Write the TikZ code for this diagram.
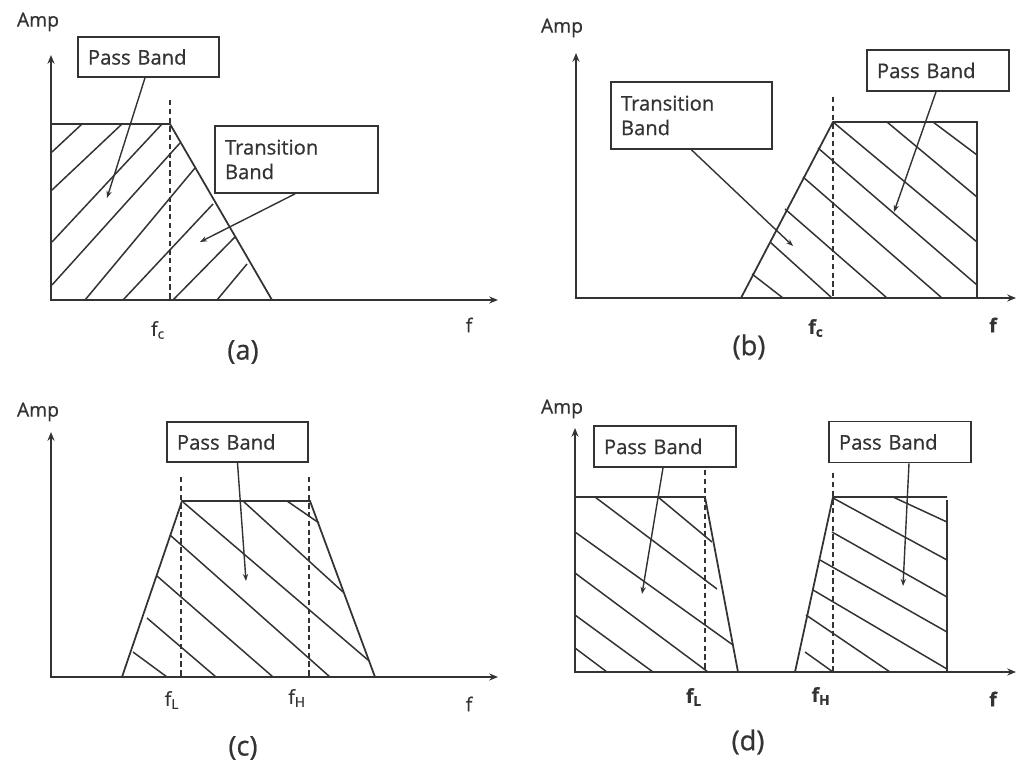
\documentclass[tikz,border=0pt]{standalone}
\usepackage{fontspec}
\setmainfont{Open Sans}[FakeBold=0.7]
\usetikzlibrary{arrows.meta, positioning}
\definecolor{ink}{HTML}{333333}

\begin{document}
\begin{tikzpicture}[x=0.02cm, y=-0.02cm]
	% 定义样式
	\tikzset{
		axis line/.style={
			line width=1.2pt, draw=ink,
			{Stealth[length=5pt,width=4pt]}-{Stealth[length=5pt,width=4pt]}
		},
		band edge/.style={line width=1pt, draw=ink},
		hatch line/.style={line width=0.85pt, draw=ink},
		cut line/.style={line width=1pt, draw=ink, dash pattern=on 3pt off 2pt},
		band box/.style={
			draw=ink, line width=1pt, fill=white, text=ink,
			inner xsep=0.2cm, inner ysep=0pt, align=left,
			font=\fontsize{11.5}{14}\selectfont
		},
		pointer/.style={line width=0.8pt, draw=ink, -{Stealth[length=4pt,width=3pt]}},
		axis label/.style={text=ink, font=\fontsize{11}{13}\selectfont},
		tick label/.style={text=ink, font=\fontsize{11}{13}\selectfont},
		panel label/.style={text=ink, font=\fontsize{15.5}{18}\selectfont}
	}
	
	\useasboundingbox (0,0) rectangle (1018,770);
	
	% (a) 低通
	\coordinate (ya) at (51,55);
	\coordinate (oa) at (51,300);
	\coordinate (xa) at (498,300);
	\foreach \xa/\ya/\xb/\yb in {52/152/82/124, 52/190/122/124, 52/242/162/124, 52/285/180/143,
		85/300/195/168, 123/300/213/204, 173/300/235/237, 217/300/247/264} {
		\draw[hatch line] (\xa,\ya) -- (\xb,\yb);
	}
	\draw[band edge] (51,124) -- (170,124) -- (272,300);
	\draw[cut line] (170,100) -- (170,300);
	\draw[axis line] (ya) -- (oa) -- (xa);
	\node[axis label] (ampa) at (38,22) {Amp};
	\node[tick label] (fca) at (158,330) {f\textsubscript{c}};
	\node[tick label] (fa) at (469,325) {f};
	\node[panel label] (capa) at (243,352) {(a)};
	\node[band box, text width=2.42cm, minimum height=0.8cm] (passa) at (148.5,57) {Pass Band};
	\node[band box, text width=2.86cm, minimum height=1.34cm] (transa) at (296.5,159.5) {Transition\\Band};
	\coordinate (passatip) at (107,198);
	\coordinate (transatip) at (200,242);
	\draw[pointer] ([xshift=-0.07cm]passa.south) -- (passatip);
	\draw[pointer] ([xshift=-0.03cm]transa.south) -- (transatip);
	
	% (b) 高通
	\coordinate (yb) at (576,53);
	\coordinate (ob) at (576,298);
	\coordinate (xb) at (1016,298);
	\foreach \xa/\ya/\xb/\yb in {752/274/783/298, 770/242/832/298, 785/209/887/298, 803/177/942/298,
		818/148/977/285, 833/122/977/242, 887/122/977/197, 933/122/977/155} {
		\draw[hatch line] (\xa,\ya) -- (\xb,\yb);
	}
	\draw[band edge] (741,298) -- (833,122) -- (977,122) -- (977,298);
	\draw[cut line] (833,97) -- (833,298);
	\draw[axis line] (yb) -- (ob) -- (xb);
	\node[axis label] (ampb) at (562,28) {Amp};
	\node[tick label, font=\fontsize{11}{13}\selectfont\bfseries] (fcb) at (816,328) {f\textsubscript{c}};
	\node[tick label, font=\fontsize{11}{13}\selectfont\bfseries] (fb) at (993,325) {f};
	\node[panel label] (capb) at (749,347) {(b)};
	\node[band box, text width=2.82cm, minimum height=1.34cm] (transb) at (691.5,115.5) {Transition\\Band};
	\node[band box, text width=2.44cm, minimum height=0.82cm] (passb) at (938,70.5) {Pass Band};
	\coordinate (transbtip) at (793,246);
	\coordinate (passbtip) at (894,212);
	\draw[pointer] (transb.south) -- (transbtip);
	\draw[pointer] ([xshift=-0.04cm]passb.south) -- (passbtip);
	
	% (c) 带通
	\coordinate (yc) at (51,432);
	\coordinate (oc) at (51,677);
	\coordinate (xc) at (498,677);
	\foreach \xa/\ya/\xb/\yb in {133/652/167/677, 147/618/216/677, 157/576/273/677, 170/535/330/677,
		183/502/368/660, 243/501/343/592, 287/501/319/523} {
		\draw[hatch line] (\xa,\ya) -- (\xb,\yb);
	}
	\draw[band edge] (122,677) -- (182,501) -- (310,501) -- (375,677);
	\draw[cut line] (181,477) -- (181,677);
	\draw[cut line] (309,477) -- (309,677);
	\draw[axis line] (yc) -- (oc) -- (xc);
	\node[axis label] (ampc) at (38,412) {Amp};
	\node[tick label] (flc) at (172,700) {f\textsubscript{L}};
	\node[tick label] (fhc) at (297,698) {f\textsubscript{H}};
	\node[tick label] (fc) at (469,704) {f};
	\node[panel label] (capc) at (243,748) {(c)};
	\node[band box, text width=2.42cm, minimum height=0.8cm] (passc) at (237.5,442) {Pass Band};
	\coordinate (passctip) at (246,581);
	\draw[pointer] (passc.south) -- (passctip);
	
	% (d) 带阻
	\coordinate (yd) at (575,428);
	\coordinate (od) at (575,672);
	\coordinate (xd) at (1016,672);
	\foreach \xa/\ya/\xb/\yb in {575/648/607/672, 575/615/653/672, 575/573/708/672, 575/532/733/645,
		595/497/717/589, 658/497/712/542,
		805/652/833/672, 806/615/890/672, 813/590/947/669, 820/560/947/632,
		832/532/947/597, 833/498/947/560, 893/497/947/522} {
		\draw[hatch line] (\xa,\ya) -- (\xb,\yb);
	}
	\draw[band edge] (575,497) -- (705,497);
	\draw[band edge] (705,497) -- (738,672);
	\draw[band edge] (795,672) -- (833,497) -- (947,497);
	\draw[band edge] (947,500) -- (947,672);
	\draw[cut line] (705,470) -- (705,672);
	\draw[cut line] (833,473) -- (833,672);
	\draw[axis line] (yd) -- (od) -- (xd);
	\node[axis label] (ampd) at (562,409) {Amp};
	\node[tick label, font=\fontsize{11}{13}\selectfont\bfseries] (fld) at (694,697) {f\textsubscript{L}};
	\node[tick label, font=\fontsize{11}{13}\selectfont\bfseries] (fhd) at (821,696) {f\textsubscript{H}};
	\node[tick label, font=\fontsize{11}{13}\selectfont\bfseries] (fd) at (993,699) {f};
	\node[panel label] (capd) at (748,742) {(d)};
	\node[band box, text width=2.44cm, minimum height=0.82cm] (passdl) at (665,446.5) {Pass Band};
	\node[band box, text width=2.44cm, minimum height=0.82cm] (passdr) at (900,442) {Pass Band};
	\coordinate (passdltip) at (642,594);
	\coordinate (passdrtip) at (903,586);
	\draw[pointer] ([xshift=-0.04cm]passdl.south) -- (passdltip);
	\draw[pointer] ([xshift=0.18cm]passdr.south) -- (passdrtip);
\end{tikzpicture}
\end{document}
